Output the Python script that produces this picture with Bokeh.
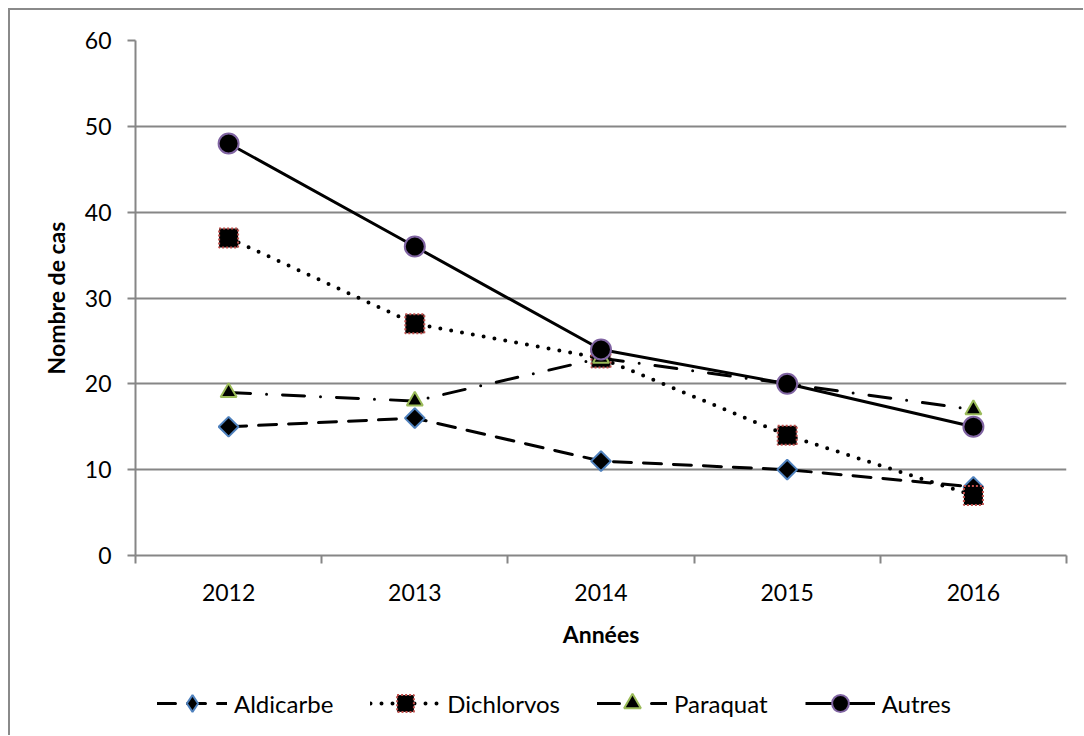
import math
from bokeh.plotting import figure
from bokeh.layouts import column
from bokeh.models import Range1d, FixedTicker, Legend, LegendItem
from bokeh.embed import file_html
from bokeh.resources import INLINE

years = [2012, 2013, 2014, 2015, 2016]
aldicarbe = [15, 16, 11, 10, 8]
dichlorvos = [37, 27, 23, 14, 7]
paraquat = [19, 18, 23, 20, 17]
autres = [48, 36, 24, 20, 15]
y_ticks = [0, 10, 20, 30, 40, 50, 60]
labels = ["Aldicarbe", "Dichlorvos", "Paraquat", "Autres"]

FONT = "Lato"
GRAY = "#868686"
W = 1073

p = figure(width=W, height=660,
           x_range=Range1d(years[0] - 0.5, years[-1] + 0.5),
           y_range=Range1d(y_ticks[0], y_ticks[-1]),
           output_backend="svg", toolbar_location=None,
           min_border_left=125, min_border_top=30,
           min_border_right=17, min_border_bottom=115)
p.outline_line_color = None
p.background_fill_color = "white"
p.border_fill_color = "white"

# axes
bounds = [y - 0.5 for y in years] + [years[-1] + 0.5]
p.xaxis.ticker = FixedTicker(ticks=years, minor_ticks=bounds)
p.xaxis.major_tick_out = 0
p.xaxis.major_tick_in = 0
p.xaxis.major_tick_line_color = None
p.xaxis.minor_tick_out = 8
p.xaxis.minor_tick_in = 0
p.xaxis.minor_tick_line_color = GRAY
p.xaxis.minor_tick_line_width = 2
p.xaxis.major_label_standoff = 20
p.xaxis.axis_label = "Années"
p.xaxis.axis_label_standoff = 16

p.yaxis.ticker = FixedTicker(ticks=y_ticks, minor_ticks=[])
p.yaxis.major_tick_out = 8
p.yaxis.major_tick_in = 0
p.yaxis.major_tick_line_color = GRAY
p.yaxis.major_tick_line_width = 2
p.yaxis.major_label_standoff = 16
p.yaxis.axis_label = "Nombre de cas"
p.yaxis.axis_label_standoff = 12

for ax in (p.xaxis, p.yaxis):
    ax.axis_line_color = GRAY
    ax.axis_line_width = 2
    ax.major_label_text_font = FONT
    ax.major_label_text_font_size = "23px"
    ax.major_label_text_color = "black"
    ax.axis_label_text_font = FONT
    ax.axis_label_text_font_size = "23px"
    ax.axis_label_text_font_style = "bold"
    ax.axis_label_text_color = "black"

p.xgrid.visible = False
p.ygrid.grid_line_color = GRAY
p.ygrid.grid_line_width = 2

series = [aldicarbe, dichlorvos, paraquat, autres]
line_styles = [
    dict(line_width=3, line_dash="18 12", line_cap="round"),
    dict(line_width=4, line_dash="0 11", line_cap="round"),
    dict(line_width=3, line_dash="22 16 0 16", line_cap="round"),
    dict(line_width=3),
]
marker_styles = [
    dict(marker="square", angle=math.pi / 4, size=14, line_color="#4F81BD", line_width=2),
    dict(marker="square", size=19, line_color="#C0504D", line_width=2, line_dash="2 2"),
    dict(marker="triangle", size=16, line_color="#9BBB59", line_width=2),
    dict(marker="circle", size=20, line_color="#8064A2", line_width=2),
]
legend_markers = [
    dict(marker="diamond", line_color="#4F81BD", line_width=2),
    dict(marker="square", line_color="#C0504D", line_width=2, line_dash="2 2"),
    dict(marker="triangle", line_color="#9BBB59", line_width=2),
    dict(marker="circle", line_color="#8064A2", line_width=2),
]

for vals, ls, ms in zip(series, line_styles, marker_styles):
    p.line(years, vals, line_color="black", **ls)
    p.scatter(years, vals, fill_color="black", **ms)

# legend strip below the chart (its own renderers lie outside its view)
lg = figure(width=W, height=65, output_backend="svg", toolbar_location=None,
            x_axis_type=None, y_axis_type=None,
            x_range=Range1d(0, 1), y_range=Range1d(0, 1),
            min_border=0, min_border_left=125, min_border_right=17,
            min_border_top=0, min_border_bottom=0)
lg.outline_line_color = None
lg.background_fill_color = "white"
lg.border_fill_color = "white"

items = []
for lab, vals, ls, ms in zip(labels, series, line_styles, legend_markers):
    lr = lg.line(years, vals, line_color="black", **ls)
    mr = lg.scatter(years, vals, fill_color="black", **ms)
    items.append(LegendItem(label=lab, renderers=[lr, mr]))

legend = Legend(items=items, orientation="horizontal", location=(22, 11))
legend.border_line_color = None
legend.background_fill_alpha = 0
legend.glyph_width = 70
legend.glyph_height = 42
legend.label_standoff = 7
legend.spacing = 37
legend.padding = 0
legend.margin = 0
legend.label_text_font = FONT
legend.label_text_font_size = "24px"
legend.label_text_color = "black"
lg.add_layout(legend, "center")

layout = column(p, lg, spacing=0)
layout.styles = {"margin-left": "8px", "margin-top": "8px",
                 "border-left": "2px solid #8a8a8a", "border-top": "2px solid #8a8a8a"}

open("out.html", "w").write(file_html(layout, INLINE))
